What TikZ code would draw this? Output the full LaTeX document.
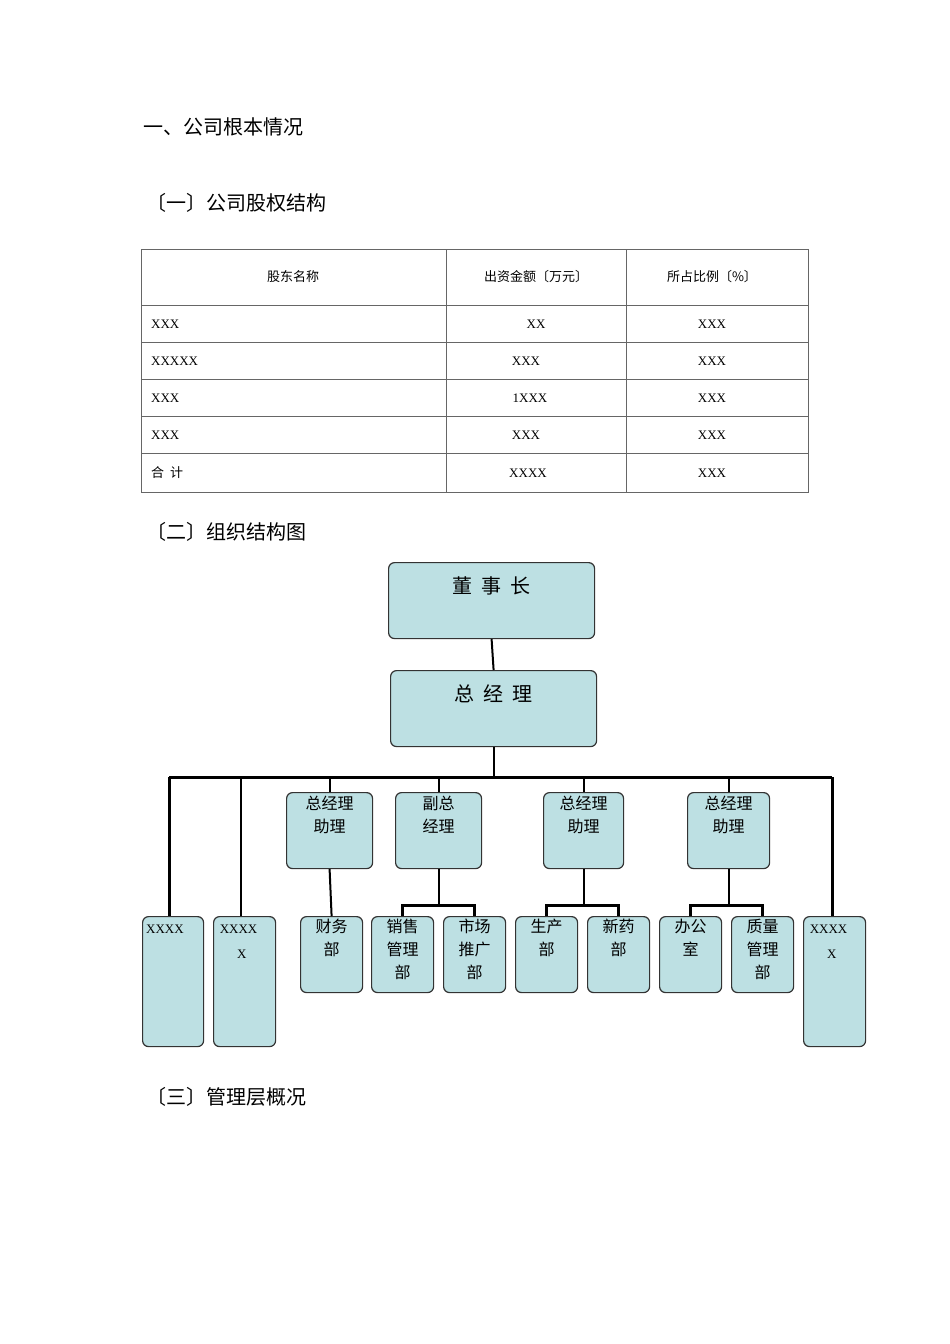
\documentclass[tikz,border=0pt]{standalone}
\usepackage{fontspec}
\setmainfont{Liberation Serif}
\newfontfamily\cjk{Noto Sans CJK SC}
\definecolor{boxfill}{HTML}{BDE0E3}
\tikzset{
  box/.style={draw=black!80, fill=boxfill, rounded corners=6pt, line width=1.2pt, inner sep=0pt, anchor=north west},
  lbl/.style={font=\cjk\fontsize{16}{23}\selectfont, align=center, inner sep=0pt, anchor=north},
  big/.style={font=\cjk\fontsize{20}{24}\selectfont, inner sep=0pt, anchor=north},
  head/.style={font=\cjk\fontsize{20}{24}\selectfont, inner sep=0pt, anchor=west},
  cell/.style={font=\fontsize{13}{15}\selectfont, inner sep=0pt},
  cellc/.style={font=\cjk\fontsize{13}{15}\selectfont, inner sep=0pt},
  thick line/.style={line width=3pt},
  thin line/.style={line width=2pt}
}
\newcommand{\bx}[7]{%
  \node[box, minimum width=#4-#2, minimum height=#5-#3] (#1) at (#2,#3) {};
  \node[lbl] (#1t) at ($(#1.north)+(0,#7)$) {#6};
}
\usetikzlibrary{calc}
\begin{document}
\begin{tikzpicture}[x=1pt,y=-1pt]
\useasboundingbox[fill=white] (0,0) rectangle (950,1344);
\node[head] (h1) at (143,127) {一、公司根本情况};
\node[head] (h2) at (146,203) {〔一〕公司股权结构};
\node[head] (h3) at (146,532) {〔二〕组织结构图};
\node[head] (h4) at (146,1097) {〔三〕管理层概况};
% table
\draw[black!60, line width=0.8pt] (141,249) rectangle (808,492);
\foreach \y in {305,342,379,416,453} \draw[black!60, line width=0.8pt] (141,\y) -- (808,\y);
\draw[black!60, line width=0.8pt] (446,249) -- (446,492) (626,249) -- (626,492);
\node[cellc] (t11) at (293,277) {股东名称};
\node[cellc] (t12) at (536,277) {出资金额〔万元〕};
\node[cellc] (t13) at (712,277) {所占比例〔\%〕};
\node[cell,anchor=west] (t21) at (151,324) {XXX};
\node[cell] (t22) at (536,324) {XX};
\node[cell] (t23) at (712,324) {XXX};
\node[cell,anchor=west] (t31) at (151,361) {XXXXX};
\node[cell] (t32) at (526,361) {XXX};
\node[cell] (t33) at (712,361) {XXX};
\node[cell,anchor=west] (t41) at (151,398) {XXX};
\node[cell] (t42) at (530,398) {1XXX};
\node[cell] (t43) at (712,398) {XXX};
\node[cell,anchor=west] (t51) at (151,435) {XXX};
\node[cell] (t52) at (526,435) {XXX};
\node[cell] (t53) at (712,435) {XXX};
\node[cellc,anchor=west] (t61) at (151,473) {合\ \ 计};
\node[cell] (t62) at (528,473) {XXXX};
\node[cell] (t63) at (712,473) {XXX};
% org chart
\node[box, minimum width=206, minimum height=76] (ceo) at (388,562) {};
\node[big] (ceot) at ($(ceo.north)+(0,14)$) {董\ \ 事\ \ 长};
\node[box, minimum width=206, minimum height=76] (gm) at (390,670) {};
\node[big] (gmt) at ($(gm.north)+(0,14)$) {总\ \ 经\ \ 理};
\bx{a1}{286}{792}{372}{868}{总经理\\助理}{4}
\bx{vp}{395}{792}{481}{868}{副总\\经理}{4}
\bx{a2}{543}{792}{623}{868}{总经理\\助理}{4}
\bx{a3}{687}{792}{769}{868}{总经理\\助理}{4}
\bx{cw}{300}{916}{362}{992}{财务\\部}{3}
\bx{xs}{371}{916}{433}{992}{销售\\管理\\部}{3}
\bx{sc}{443}{916}{505}{992}{市场\\推广\\部}{3}
\bx{sch}{515}{916}{577}{992}{生产\\部}{3}
\bx{xy}{587}{916}{649}{992}{新药\\部}{3}
\bx{bg}{659}{916}{721}{992}{办公\\室}{3}
\bx{zl}{731}{916}{793}{992}{质量\\管理\\部}{3}
\node[box, minimum width=61, minimum height=130] (x1) at (142,916) {};
\node[cell, anchor=north west] (x1t) at (146,925) {XXXX};
\node[box, minimum width=62, minimum height=130] (x2) at (213,916) {};
\node[cell, anchor=north, align=center, font=\fontsize{13}{25}\selectfont] (x2t) at ($(x2.north)+(-6,9)$) {XXXX\\\ \ X};
\node[box, minimum width=62, minimum height=130] (x3) at (803,916) {};
\node[cell, anchor=north, align=center, font=\fontsize{13}{25}\selectfont] (x3t) at ($(x3.north)+(-6,9)$) {XXXX\\\ \ X};
\coordinate (barL) at (169,777);
\coordinate (barR) at (832,777);
\draw[thin line] (ceo.south) -- (gm.north);
\draw[thin line] (gm.south) -- (gm.south |- barL);
\draw[thick line] (barL) -- (barR);
\draw[thick line] (barL) -- (barL |- x1.north);
\draw[thin line] (241,777) -- (241,916);
\draw[thick line] (barR) -- (barR |- x3.north);
\foreach \n in {a1,vp,a2,a3} \draw[thin line] (\n.north) -- (\n.north |- barL);
\draw[thin line] (a1.south) -- (cw.north);
\coordinate (j1) at (vp.south |- 0,905);
\coordinate (j2) at (a2.south |- 0,905);
\coordinate (j3) at (a3.south |- 0,905);
\draw[thin line] (vp.south) -- (j1);
\draw[thin line] (a2.south) -- (j2);
\draw[thin line] (a3.south) -- (j3);
\draw[thick line] (xs.north) |- (j1) -| (sc.north);
\draw[thick line] (sch.north) |- (j2) -| (xy.north);
\draw[thick line] (bg.north) |- (j3) -| (zl.north);
\end{tikzpicture}
\end{document}
